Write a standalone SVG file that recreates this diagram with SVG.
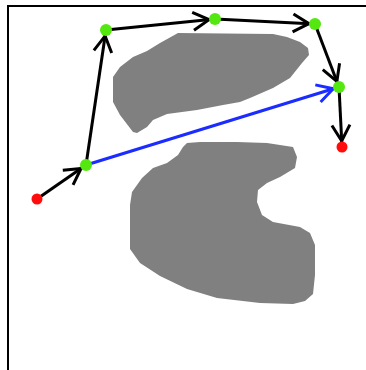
<svg xmlns="http://www.w3.org/2000/svg" width="366" height="370" viewBox="0 0 366 370">
<style>
.obs{fill:#808080;stroke:none}
.edge{fill:none;stroke:#000;stroke-width:3;marker-end:url(#ah)}
.blue{fill:none;stroke:#1a2cff;stroke-width:3;marker-end:url(#ahb)}
.wp{fill:#55e810}
.term{fill:#ff0d0d}
</style>
<defs>
<marker id="ah" markerUnits="userSpaceOnUse" markerWidth="40" markerHeight="40" viewBox="-25 -20 40 40" refX="6" refY="0" orient="auto">
<path d="M-16,-9 L0,0 L-16,9" fill="none" stroke="#000" stroke-width="3"/>
</marker>
<marker id="ahb" markerUnits="userSpaceOnUse" markerWidth="40" markerHeight="40" viewBox="-25 -20 40 40" refX="6" refY="0" orient="auto">
<path d="M-16,-9 L0,0 L-16,9" fill="none" stroke="#1a2cff" stroke-width="3"/>
</marker>
</defs>
<rect width="366" height="370" fill="#fff"/>
<path d="M8,370 V6 H366" fill="none" stroke="#000" stroke-width="2"/>
<g id="obstacles">
<path class="obs" d="M178,33 L273,34 L287,37 L300,42 L308,48 L309,55 L302,63 L290,78 L273,88 L250,98 L240,102 L223,105 L197,110 L167,114 L153,120 L147,127 L137,133 L133,132 L120,115 L113,102 L113,77 L120,67 L133,57 L147,51 L160,43 Z"/>
<path class="obs" d="M187,143 L200,142 L237,142 L267,143 L293,147 L297,157 L295,168 L280,177 L267,183 L258,190 L257,202 L262,215 L273,222 L300,227 L310,233 L315,245 L315,275 L313,294 L305,301 L293,304 L260,303 L217,298 L187,289 L160,276 L140,263 L130,249 L130,205 L132,192 L142,178 L153,168 L167,163 L178,155 L183,147 Z"/>
</g>
<g id="connectors">
<line class="edge" x1="37" y1="199" x2="86" y2="165"/>
<line class="edge" x1="86" y1="165" x2="106" y2="30"/>
<line class="edge" x1="106" y1="30" x2="215" y2="19"/>
<line class="edge" x1="215" y1="19" x2="315" y2="24"/>
<line class="edge" x1="315" y1="24" x2="339" y2="87"/>
<line class="edge" x1="339" y1="87" x2="342" y2="147"/>
<line class="blue" x1="86" y1="165" x2="339" y2="87"/>
</g>
<g id="start"><circle class="term" cx="37" cy="199" r="5.5"/></g>
<g id="goal"><circle class="term" cx="342" cy="147" r="5.5"/></g>
<g id="n1"><circle class="wp" cx="86" cy="165" r="6"/></g>
<g id="n2"><circle class="wp" cx="106" cy="30" r="6"/></g>
<g id="n3"><circle class="wp" cx="215" cy="19" r="6"/></g>
<g id="n4"><circle class="wp" cx="315" cy="24" r="6"/></g>
<g id="n5"><circle class="wp" cx="339" cy="87" r="6"/></g>
</svg>
